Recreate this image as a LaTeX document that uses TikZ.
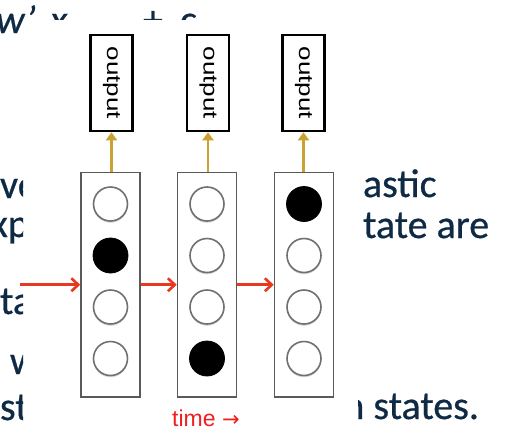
\documentclass[tikz,border=0pt]{standalone}
\usepackage{fontspec}
\setmainfont{Carlito}
\newfontfamily\slidefont[FakeBold=0.6]{Carlito}
\newfontfamily\arialf{Liberation Sans}
\newfontfamily\djv{DejaVu Sans}
\newcommand{\outtextfont}{\arialf\fontsize{20}{22}\selectfont}
\usetikzlibrary{arrows.meta,shadows}
\definecolor{navy}{HTML}{0E2A45}
\definecolor{boxgray}{HTML}{5A5A5A}
\definecolor{cellgray}{HTML}{707070}
\definecolor{gold}{HTML}{C9A233}
\definecolor{redarrow}{HTML}{E8381F}
\definecolor{timered}{HTML}{F01E1E}
\begin{document}
\begin{tikzpicture}[x=1pt,y=-1pt,
 slidetext/.style={anchor=base west, inner sep=0pt, outer sep=0pt, text=navy, font=\slidefont\fontsize{40}{48}\selectfont},
 column/.style={draw=boxgray, line width=1.5pt, fill=white, minimum width=59pt, minimum height=224.5pt, inner sep=0pt},
 cell/.style={circle, draw=cellgray, line width=1.6pt, fill=white, minimum size=34pt, inner sep=0pt, drop shadow={shadow xshift=0pt, shadow yshift=-1.8pt, opacity=0.3}},
 oncell/.style={circle, draw=black, fill=black, line width=0.8pt, minimum size=35pt, inner sep=0pt},
 outbox/.style={draw=black, line width=2.6pt, fill=white, minimum width=42pt, minimum height=96pt, inner sep=0pt},
 upline/.style={draw=gold, line width=2.4pt, -{Triangle[width=11pt,length=8pt]}},
 rightline/.style={draw=redarrow, line width=2.6pt, -{Straight Barb[length=7pt,width=13pt]}},
]
\fill[white] (0,0) rectangle (505,431);
\useasboundingbox (0,0) rectangle (505,431);

% slide text fragments
\node[slidetext] (tw) at (-4,33) {\itshape w’};
\begin{scope}
\clip (30,0) rectangle (505,19);
\node[slidetext] (tx) at (50,33) {\itshape x};
\node[slidetext] (tplus) at (143,33) {+};
\node[slidetext] (tc) at (180,33) {c};
\end{scope}
\begin{scope}
\clip (0,150) rectangle (23,431);
\node[slidetext] (l1) at (0,198) {ve};
\node[slidetext] (l2) at (-9.5,237) {xp};
\node[slidetext] (l3) at (0,314) {ta};
\node[slidetext] (l4) at (-19,374) {e w};
\node[slidetext] (l5) at (0,420) {st};
\end{scope}
\node[slidetext] (r1) at (363,197) {astic};
\node[slidetext] (r2) at (363,238) {tate are};
\begin{scope}
\clip (358,380) rectangle (505,431);
\node[slidetext] (r3) at (343.4,419) {n states.};
\end{scope}

% columns
\node[column] (b1) at (110.5,284.75) {};
\node[column] (b2) at (207,284.75) {};
\node[column] (b3) at (304,284.75) {};

% cells
\node[cell] (c11) at (110.5,204) {};
\node[oncell] (c12) at (110.5,255.5) {};
\node[cell] (c13) at (110.5,307) {};
\node[cell] (c14) at (110.5,358.5) {};
\node[cell] (c21) at (207,204) {};
\node[cell] (c22) at (207,255.5) {};
\node[cell] (c23) at (207,307) {};
\node[oncell] (c24) at (207,358.5) {};
\node[oncell] (c31) at (304,204) {};
\node[cell] (c32) at (304,255.5) {};
\node[cell] (c33) at (304,307) {};
\node[cell] (c34) at (304,358.5) {};

% outputs
\node[outbox] (o1) at (111.5,83) {\rotatebox{-90}{\scalebox{1.3}[1]{\outtextfont output}}};
\node[outbox] (o2) at (208,83) {\rotatebox{-90}{\scalebox{1.3}[1]{\outtextfont output}}};
\node[outbox] (o3) at (303.5,83) {\rotatebox{-90}{\scalebox{1.3}[1]{\outtextfont output}}};

\draw[upline] (b1.north -| o1) -- (o1.south);
\draw[upline] (b2.north -| o2) -- (o2.south);
\draw[upline] (b3.north -| o3) -- (o3.south);

% transitions
\coordinate (start) at (20,284.75);
\draw[rightline] (start) -- (b1.west);
\draw[rightline] (b1.east) -- (b2.west);
\draw[rightline] (b2.east) -- (b3.west);

% time label
\node[anchor=base west, inner sep=0pt, text=timered, font=\arialf\fontsize{23}{26}\selectfont] (time) at (172,426) {time {\djv\fontsize{21}{24}\selectfont →}};
\end{tikzpicture}
\end{document}
